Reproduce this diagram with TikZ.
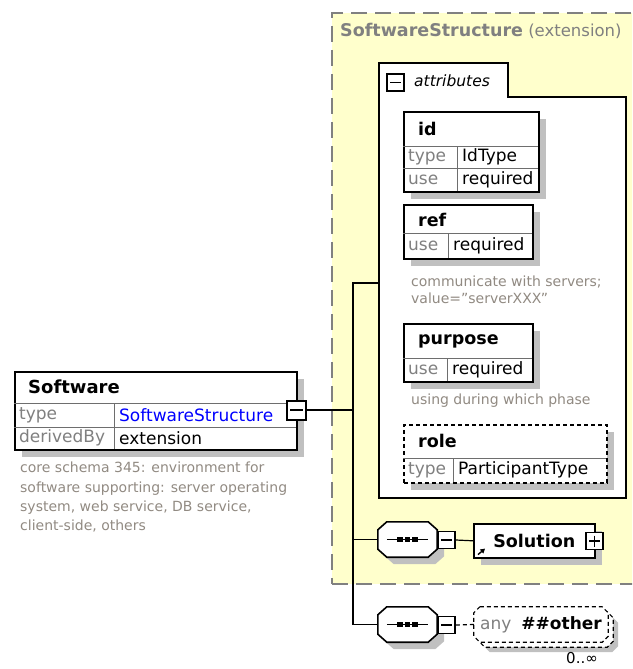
\documentclass[tikz,border=0pt]{standalone}
\usepackage{fontspec}
\setmainfont{DejaVu Sans}
\usepackage{tikz}
\usetikzlibrary{shadows, positioning, arrows.meta, calc}

\definecolor{extyellow}{RGB}{255,255,204}
\definecolor{framegray}{RGB}{128,128,128}
\definecolor{shadowgray}{RGB}{192,192,192}
\definecolor{keygray}{RGB}{128,128,128}
\definecolor{cellgray}{RGB}{110,110,110}
\definecolor{docgray}{RGB}{145,138,130}
\definecolor{typeblue}{RGB}{0,0,255}

\begin{document}
\begin{tikzpicture}[
    x=1pt, y=-1pt,
    box/.style={draw, line width=1.6pt, fill=white, rectangle, anchor=north west, inner sep=0pt, drop shadow={shadow xshift=7pt, shadow yshift=-7pt, fill=shadowgray, opacity=1}},
    boxline/.style={draw, line width=1.5pt},
    eltitle/.style={anchor=west, inner sep=0pt, font=\fontsize{17.5}{20}\selectfont\bfseries},
    keycell/.style={anchor=north west, inner xsep=5pt, inner ysep=0pt, align=left, text=keygray, font=\fontsize{17}{19}\selectfont},
    valcell/.style={keycell, text=black},
    cellline/.style={draw=cellgray, line width=0.8pt},
    doc/.style={anchor=north west, inner sep=0pt, align=left, text=docgray, font=\fontsize{14}{17}\selectfont},
    toggle/.style={draw, line width=1.6pt, fill=white, minimum size=17pt, inner sep=0pt, path picture={\draw[line width=1.2pt] ([xshift=3pt]path picture bounding box.west) -- ([xshift=-3pt]path picture bounding box.east);}},
    expand/.style={toggle, path picture={\draw[line width=1.2pt] ([xshift=3pt]path picture bounding box.west) -- ([xshift=-3pt]path picture bounding box.east); \draw[line width=1.2pt] ([yshift=-3pt]path picture bounding box.north) -- ([yshift=3pt]path picture bounding box.south);}},
    seq/.style={rectangle, minimum width=59pt, minimum height=35pt, inner sep=0pt},
    octline/.style={draw, line width=1.6pt, fill=white},
    anyline/.style={draw, line width=1.2pt, dash pattern=on 4pt off 3pt, fill=white},
    link/.style={draw, line width=1.2pt}
]

    \useasboundingbox (0,0) rectangle (632,669);
    \clip (0,0) rectangle (632,669);

    % ================= EXTENSION AREA =================
    \node[draw=framegray, line width=2pt, dash pattern=on 16pt off 8pt, fill=extyellow, anchor=north west, inner sep=0pt, minimum width=320pt, minimum height=571pt] (ext) at (331,12) {};
    \node[anchor=west, inner sep=0pt, text=framegray, font=\fontsize{16.5}{20}\selectfont] (ext-title) at (340,31) {{\fontsize{17.5}{20}\selectfont\bfseries SoftwareStructure} (extension)};

    % ================= ATTRIBUTES GROUP =================
    \draw[boxline, fill=white] (379,97) |- (508,63) |- (626,97) |- (379,498) -- cycle;
    \node[toggle] (attr-tog) at (395.5,82.5) {};
    \node[anchor=west, inner sep=0pt, font=\fontsize{15.5}{18}\selectfont\itshape] (attr-lbl) at (414,81) {attributes};
    \coordinate (attr-in) at (379,283);

    % --- id ---
    \node[box, minimum width=135pt, minimum height=80pt] (id) at (403,111) {};
    \node[eltitle] (id-t) at (418,129) {id};
    \node[keycell, text width=44pt, minimum height=22pt] (id-k1) at (403,146) {type};
    \node[valcell, text width=71pt, minimum height=22pt] (id-v1) at (457,146) {IdType};
    \node[keycell, text width=44pt, minimum height=23pt] (id-k2) at (403,168) {use};
    \node[valcell, text width=71pt, minimum height=23pt] (id-v2) at (457,168) {required};
    \draw[cellline] (id-k1.north west) -- (id-v1.north east);
    \draw[cellline] (id-k2.north west) -- (id-v2.north east);
    \draw[cellline] (id-k1.north east) -- (id-k2.south east);

    % --- ref ---
    \node[box, minimum width=129pt, minimum height=54pt] (ref) at (403,204) {};
    \node[eltitle] (ref-t) at (418,220) {ref};
    \node[keycell, text width=35pt, minimum height=25pt] (ref-k1) at (403,233) {use};
    \node[valcell, text width=74pt, minimum height=25pt] (ref-v1) at (448,233) {required};
    \draw[cellline] (ref-k1.north west) -- (ref-v1.north east);
    \draw[cellline] (ref-k1.north east) -- (ref-k1.south east);
    \node[doc] (ref-doc) at (411,276) {communicate with servers;\\value="serverXXX"};

    % --- purpose ---
    \node[box, minimum width=129pt, minimum height=58pt] (purpose) at (403,323) {};
    \node[eltitle] (purpose-t) at (418,341) {purpose};
    \node[keycell, text width=34pt, minimum height=23pt] (purpose-k1) at (403,358) {use};
    \node[valcell, text width=75pt, minimum height=23pt] (purpose-v1) at (447,358) {required};
    \draw[cellline] (purpose-k1.north west) -- (purpose-v1.north east);
    \draw[cellline] (purpose-k1.north east) -- (purpose-k1.south east);
    \node[doc] (purpose-doc) at (411,394) {using during which phase};

    % --- role (optional) ---
    \node[box, dash pattern=on 4pt off 3pt, minimum width=203pt, minimum height=58pt] (role) at (403,424) {};
    \node[eltitle] (role-t) at (418,441) {role};
    \node[keycell, text width=40pt, minimum height=24pt] (role-k1) at (403,458) {type};
    \node[valcell, text width=143pt, minimum height=24pt] (role-v1) at (453,458) {ParticipantType};
    \draw[cellline] (role-k1.north west) -- (role-v1.north east);
    \draw[cellline] (role-k1.north east) -- (role-k1.south east);

    % ================= SOFTWARE ELEMENT =================
    \node[box, minimum width=282pt, minimum height=78pt] (software) at (14,371) {};
    \node[eltitle, font=\fontsize{18}{20}\selectfont\bfseries] (software-t) at (28,387) {Software};
    \node[keycell, text width=90pt, minimum height=24pt] (sw-k1) at (14,403) {type};
    \node[valcell, text width=172pt, minimum height=24pt, text=typeblue] (sw-v1) at (114,403) {SoftwareStructure};
    \node[keycell, text width=90pt, minimum height=22pt] (sw-k2) at (14,427) {derivedBy};
    \node[valcell, text width=172pt, minimum height=22pt] (sw-v2) at (114,427) {extension};
    \draw[cellline] (sw-k1.north west) -- (sw-v1.north east);
    \draw[cellline] (sw-k2.north west) -- (sw-v2.north east);
    \draw[cellline] (sw-k1.north east) -- (sw-k2.south east);
    \node[toggle, minimum size=19pt, line width=2pt] (sw-tog) at (296.5,410) {};
    \node[doc, font=\fontsize{14}{19.3}\selectfont] (sw-doc) at (20,462) {core schema 345: environment for\\software supporting: server operating\\system, web service, DB service,\\client-side, others};

    % ================= SEQUENCES =================
    \node[seq] (seq1) at (407.5,539.5) {};
    \node[seq] (seq2) at (407.5,624.5) {};
    \foreach \n in {seq1,seq2}
        \draw[octline, drop shadow={shadow xshift=7pt, shadow yshift=-7pt, fill=shadowgray, opacity=1}] ([xshift=9pt]\n.north west) -- ([xshift=-9pt]\n.north east) -- ([yshift=-8pt]\n.north east) -- ([yshift=8pt]\n.south east) -- ([xshift=-9pt]\n.south east) -- ([xshift=9pt]\n.south west) -- ([yshift=8pt]\n.south west) -- ([yshift=-8pt]\n.north west) -- cycle;
    \foreach \n in {seq1,seq2} {
        \draw[line width=1.2pt] ([xshift=9pt]\n.west) -- ([xshift=-9pt]\n.east);
        \foreach \d in {-7.5,0,7.5}
            \fill[black] ([xshift=\d pt]\n.center) +(-2.6,-2.2) rectangle +(2.6,2.2);
    }
    \node[toggle] (seq1-tog) at (446.5,540) {};
    \node[toggle] (seq2-tog) at (446.5,625) {};

    % --- Solution ---
    \node[box, minimum width=121pt, minimum height=34pt, font=\fontsize{17.5}{20}\selectfont\bfseries] (sol) at (473,523) {Solution\hspace{8pt}};
    \node[expand] (sol-tog) at (594.5,541) {};
    \draw[-{Triangle[length=4.5pt,width=5pt]}, line width=1.4pt] ([shift={(5,-4)}]sol.south west) -- ++(7,-6);

    % --- any ##other (0..unbounded) ---
    \node[seq, minimum width=134pt] (any-back) at (546,629.5) {};
    \node[seq, minimum width=134pt] (any) at (541,624.5) {};
    \draw[anyline, drop shadow={shadow xshift=5pt, shadow yshift=-5pt, fill=shadowgray, opacity=1}] ([xshift=6pt]any-back.north west) -- ([xshift=-6pt]any-back.north east) -- ([yshift=-6pt]any-back.north east) -- ([yshift=6pt]any-back.south east) -- ([xshift=-6pt]any-back.south east) -- ([xshift=6pt]any-back.south west) -- ([yshift=6pt]any-back.south west) -- ([yshift=-6pt]any-back.north west) -- cycle;
    \draw[anyline] ([xshift=6pt]any.north west) -- ([xshift=-6pt]any.north east) -- ([yshift=-6pt]any.north east) -- ([yshift=6pt]any.south east) -- ([xshift=-6pt]any.south east) -- ([xshift=6pt]any.south west) -- ([yshift=6pt]any.south west) -- ([yshift=-6pt]any.north west) -- cycle;
    \node[font=\fontsize{17}{20}\selectfont] (any-lbl) at (any) {{\color{keygray}any}\hspace{10pt}{\bfseries\#\#other}};
    \node[anchor=north, inner sep=0pt, font=\fontsize{15}{17}\selectfont] (any-occ) at (582,652) {0..∞};

    % ================= CONNECTIONS =================
    \coordinate (trunk) at (353,283);
    \draw[link] (attr-in) -- (trunk) |- (seq2.west);
    \draw[link] (sw-tog.east) -- (sw-tog.east -| trunk);
    \draw[link] (seq1.west) -- (seq1.west -| trunk);
    \draw[link] (seq1-tog.east) -- (sol.west);
    \draw[link, dash pattern=on 4pt off 3pt] (seq2-tog.east) -- (any.west);

\end{tikzpicture}
\end{document}
